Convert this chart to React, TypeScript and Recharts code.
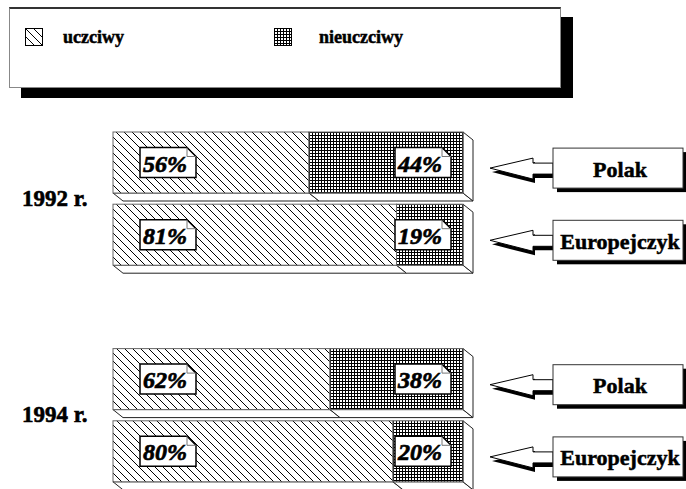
import React from "react";
import { Bar, BarChart, LabelList, Legend, XAxis, YAxis } from "recharts";

const years = ["1992 r.", "1994 r."];
const groups = ["Polak", "Europejczyk"];
const uczciwy1992 = [56, 81];
const nieuczciwy1992 = [44, 19];
const uczciwy1994 = [62, 80];
const nieuczciwy1994 = [38, 20];
const seriesNames = ["uczciwy", "nieuczciwy"];

type Row = { key: string; year: string; group: string; uczciwy: number | null; nieuczciwy: number | null };

const rows: Row[] = [
  ...groups.map((g, i) => ({ key: `${years[0]} ${g}`, year: years[0], group: g, uczciwy: uczciwy1992[i], nieuczciwy: nieuczciwy1992[i] })),
  { key: "gap", year: "", group: "", uczciwy: null, nieuczciwy: null },
  ...groups.map((g, i) => ({ key: `${years[1]} ${g}`, year: years[1], group: g, uczciwy: uczciwy1994[i], nieuczciwy: nieuczciwy1994[i] })),
];

const W = 686;
const H = 489;
const PLOT_LEFT = 113;
const PLOT_RIGHT = 463;
const DX = 10;
const DY = 8;
const SERIF = "'Liberation Serif', 'Times New Roman', serif";

function Patterns() {
  return (
    <defs>
      <pattern id="hatch" width="8" height="8" patternUnits="userSpaceOnUse">
        <rect width="8" height="8" fill="#fff" />
        <path d="M-1,-1 L9,9 M-1,7 L1,9 M7,-1 L9,1" stroke="#000" strokeWidth="1" />
      </pattern>
      <pattern id="grid" width="3" height="3" patternUnits="userSpaceOnUse">
        <rect width="3" height="3" fill="#fff" />
        <path d="M0,0.5 H3 M0.5,0 V3" stroke="#000" strokeWidth="1" />
      </pattern>
    </defs>
  );
}

function makeShape(fill: string, withSide: boolean) {
  return (props: any) => {
    const { x, y, width, height } = props;
    if (!width || width <= 0 || !height) return <g />;
    const b = y + height;
    return (
      <g>
        <polygon
          points={`${x},${b} ${x + width},${b} ${x + width + DX},${b + DY} ${x + DX},${b + DY}`}
          fill="#fff"
          stroke="#222"
          strokeWidth={1}
        />
        {withSide && (
          <polygon
            points={`${x + width},${y} ${x + width + DX},${y + DY} ${x + width + DX},${b + DY} ${x + width},${b}`}
            fill="#fff"
            stroke="#222"
            strokeWidth={1}
          />
        )}
        <rect x={x} y={y} width={width} height={height} fill={fill} stroke="#666" strokeWidth={1} />
      </g>
    );
  };
}

function makeLabel(alignLeft: boolean) {
  return (props: any) => {
    const { x, y, width, height, value } = props;
    if (value == null || !width) return null;
    const bw = 56;
    const bh = 30;
    const bx = alignLeft ? x + 27 : x + width - 12 - bw;
    const by = y + height / 2 - bh / 2;
    const f = 9;
    return (
      <g>
        <polygon
          points={`${bx},${by} ${bx + bw - f},${by} ${bx + bw},${by + f} ${bx + bw},${by + bh} ${bx},${by + bh}`}
          fill="#fff"
          stroke="#000"
          strokeWidth={1.5}
        />
        <polyline points={`${bx + bw - f},${by} ${bx + bw - f},${by + f} ${bx + bw},${by + f}`} fill="none" stroke="#777" strokeWidth={1} />
        <text
          x={bx + bw / 2 - 3}
          y={by + bh / 2 + 1}
          textAnchor="middle"
          dominantBaseline="central"
          fontFamily={SERIF}
          fontWeight="bold"
          fontStyle="italic"
          fontSize={24}
          fill="#000"
          stroke="#000"
          strokeWidth={0.7}
        >
          {`${value}%`}
        </text>
      </g>
    );
  };
}

function RowTick(props: any) {
  const { y, payload } = props;
  const row = rows.find((r) => r.key === payload.value);
  if (!row || !row.group) return <g />;
  const cy = y + 6;
  const tip = 490;
  const bx = 553;
  const bw = 130;
  const bh = 40;
  const arrow = `${tip},${cy} ${533},${cy - 10} ${533},${cy - 5} ${bx},${cy - 5} ${bx},${cy + 6} ${533},${cy + 6} ${533},${cy + 11}`;
  return (
    <g>
      {row.group === groups[0] && (
        <text
          x={22}
          y={y + 36}
          dominantBaseline="central"
          fontFamily={SERIF}
          fontWeight="bold"
          fontSize={23}
          fill="#000"
          stroke="#000"
          strokeWidth={0.6}
        >
          {row.year}
        </text>
      )}
      <polygon points={arrow} fill="#000" transform="translate(2,4)" />
      <polygon points={arrow} fill="#fff" stroke="#000" strokeWidth={1} />
      <rect x={bx + 4} y={cy - bh / 2 + 4} width={bw} height={bh} fill="#000" />
      <rect x={bx} y={cy - bh / 2} width={bw} height={bh} fill="#fff" stroke="#333" strokeWidth={1} />
      <text
        x={bx + bw / 2 + 2}
        y={cy + 1}
        textAnchor="middle"
        dominantBaseline="central"
        fontFamily={SERIF}
        fontWeight="bold"
        fontSize={22}
        fill="#000"
        stroke="#000"
        strokeWidth={0.5}
      >
        {row.group}
      </text>
    </g>
  );
}

function LegendBox() {
  const swatches = ["url(#hatch)", "url(#grid)"];
  const xs = [15, 264];
  const tx = [53, 309];
  return (
    <div
      style={{
        position: "relative",
        width: 552,
        height: 81,
        boxSizing: "border-box",
        background: "#fff",
        border: "1px solid #888",
        borderTop: "2px solid #333",
        boxShadow: "12px 10px 0 #000",
      }}
    >
      {seriesNames.map((name, i) => (
        <React.Fragment key={name}>
          <svg style={{ position: "absolute", left: xs[i], top: 19 }} width={19} height={19}>
            <rect x={0.5} y={0.5} width={17} height={17} fill={swatches[i]} stroke="#000" strokeWidth={1} />
          </svg>
          <span
            style={{
              position: "absolute",
              left: tx[i],
              top: 17,
              fontFamily: SERIF,
              fontWeight: "bold",
              fontSize: 18,
              lineHeight: "22px",
              color: "#000",
              WebkitTextStroke: "0.5px #000",
            }}
          >
            {name}
          </span>
        </React.Fragment>
      ))}
    </div>
  );
}

export default function App() {
  return (
    <div style={{ position: "absolute", left: 0, top: 0, width: W, height: H, background: "#fff" }}>
      <BarChart
        width={W}
        height={H}
        data={rows}
        layout="vertical"
        margin={{ top: 126, right: W - PLOT_RIGHT, bottom: 2, left: PLOT_LEFT - 1 }}
        barSize={61}
      >
        <Patterns />
        <XAxis type="number" domain={[0, 100]} hide />
        <YAxis type="category" dataKey="key" width={1} axisLine={false} tickLine={false} tick={<RowTick />} interval={0} />
        <Legend
          layout="vertical"
          align="center"
          verticalAlign="middle"
          content={() => <LegendBox />}
          wrapperStyle={{ top: 7, left: 9, width: 552, height: 81 }}
        />
        <Bar dataKey="uczciwy" stackId="a" isAnimationActive={false} shape={makeShape("url(#hatch)", false)}>
          <LabelList dataKey="uczciwy" content={makeLabel(true)} />
        </Bar>
        <Bar dataKey="nieuczciwy" stackId="a" isAnimationActive={false} shape={makeShape("url(#grid)", true)}>
          <LabelList dataKey="nieuczciwy" content={makeLabel(false)} />
        </Bar>
      </BarChart>
    </div>
  );
}
